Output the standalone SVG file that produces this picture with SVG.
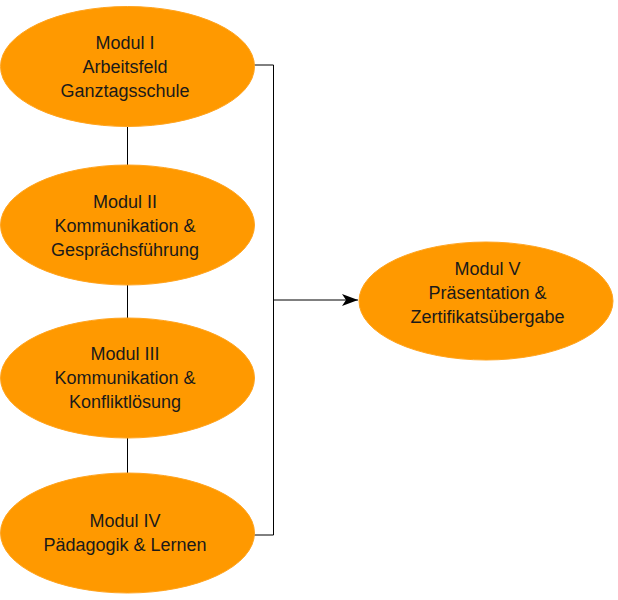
<svg xmlns="http://www.w3.org/2000/svg" width="618" height="600" viewBox="0 0 618 600">
<style>
.node ellipse{fill:#FF9900;stroke:#FFA41F;stroke-width:1}
.node text{font-family:"Liberation Sans",Arial,sans-serif;font-size:18px;fill:#1a1a1a;text-anchor:middle}
.edge{fill:none;stroke:#000;stroke-width:1}
</style>
<defs>
<marker id="arr" markerWidth="17" markerHeight="13" refX="16" refY="6.5" orient="auto" markerUnits="userSpaceOnUse">
<path d="M0,0.5 L16,6.5 L0,12.5 L4,6.5 Z" fill="#000"/>
</marker>
</defs>
<rect width="618" height="600" fill="#fff"/>
<g id="connectors">
<line class="edge" x1="127.5" y1="127" x2="127.5" y2="165" stroke="#444"/>
<line class="edge" x1="127.5" y1="285" x2="127.5" y2="318"/>
<line class="edge" x1="127.5" y1="438" x2="127.5" y2="473"/>
<polyline class="edge" points="254,65 273.5,65 273.5,535 254,535"/>
<line class="edge" x1="273.5" y1="300" x2="358" y2="300" marker-end="url(#arr)"/>
</g>
<g id="n1" class="node">
<ellipse cx="127.5" cy="66.5" rx="127" ry="60"/>
<text x="125" y="49">Modul I</text>
<text x="125" y="73">Arbeitsfeld</text>
<text x="125" y="97">Ganztagsschule</text>
</g>
<g id="n2" class="node">
<ellipse cx="127.5" cy="225" rx="127" ry="60"/>
<text x="125" y="207.5">Modul II</text>
<text x="125" y="231.5">Kommunikation &amp;</text>
<text x="125" y="255.5">Gesprächsführung</text>
</g>
<g id="n3" class="node">
<ellipse cx="127.5" cy="378" rx="127" ry="60"/>
<text x="125" y="360">Modul III</text>
<text x="125" y="384">Kommunikation &amp;</text>
<text x="125" y="408">Konfliktlösung</text>
</g>
<g id="n4" class="node">
<ellipse cx="127.5" cy="533" rx="127" ry="60"/>
<text x="125" y="527">Modul IV</text>
<text x="125" y="551">Pädagogik &amp; Lernen</text>
</g>
<g id="n5" class="node">
<ellipse cx="486" cy="301" rx="127" ry="59"/>
<text x="487.5" y="275">Modul V</text>
<text x="487.5" y="299">Präsentation &amp;</text>
<text x="487.5" y="323">Zertifikatsübergabe</text>
</g>
</svg>
